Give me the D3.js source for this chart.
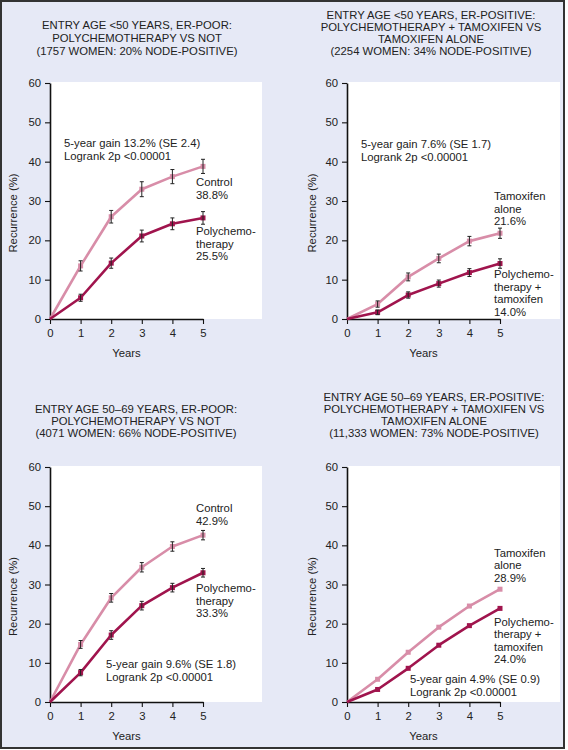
<!DOCTYPE html>
<html><head><meta charset="utf-8">
<script src="https://cdn.jsdelivr.net/npm/d3@7"></script>
<style>
html,body{margin:0;padding:0;background:#fff;}
svg{display:block;font-family:"Liberation Sans",Arial,sans-serif;}
</style></head>
<body>
<svg id="c" width="568" height="750"></svg>
<script>
// ---- data ----
const years = [0, 1, 2, 3, 4, 5];
const yTicks = [0, 10, 20, 30, 40, 50, 60];

// Panel A: entry age <50, ER-poor
const aControl   = [0, 13.5, 26.0, 33.0, 36.2, 38.8];
const aControlSE = [0, 1.3, 1.6, 1.9, 1.8, 1.8];
const aChemo     = [0, 5.4, 14.2, 21.1, 24.2, 25.7];
const aChemoSE   = [0, 0.9, 1.3, 1.5, 1.5, 1.6];
// Panel B: entry age <50, ER-positive
const bTam       = [0, 3.8, 10.7, 15.4, 19.8, 21.8];
const bTamSE     = [0, 0.8, 1.0, 1.1, 1.2, 1.3];
const bChemoTam  = [0, 1.7, 6.1, 9.0, 11.8, 14.1];
const bChemoTamSE= [0, 0.6, 0.8, 0.9, 1.0, 1.2];
// Panel C: entry age 50-69, ER-poor
const cControl   = [0, 14.7, 26.6, 34.4, 39.7, 42.6];
const cControlSE = [0, 1.0, 1.1, 1.2, 1.2, 1.2];
const cChemo     = [0, 7.5, 17.1, 24.6, 29.2, 33.0];
const cChemoSE   = [0, 0.8, 1.1, 1.1, 1.1, 1.1];
// Panel D: entry age 50-69, ER-positive
const dTam       = [0, 5.8, 12.7, 19.1, 24.5, 28.8];
const dTamSE     = [0, 0, 0, 0, 0, 0];
const dChemoTam  = [0, 3.2, 8.6, 14.5, 19.5, 23.9];
const dChemoTamSE= [0, 0, 0, 0, 0, 0];

const titles = [
  ["ENTRY AGE <50 YEARS, ER-POOR:", "POLYCHEMOTHERAPY VS NOT", "(1757 WOMEN: 20% NODE-POSITIVE)"],
  ["ENTRY AGE <50 YEARS, ER-POSITIVE:", "POLYCHEMOTHERAPY + TAMOXIFEN VS", "TAMOXIFEN ALONE", "(2254 WOMEN: 34% NODE-POSITIVE)"],
  ["ENTRY AGE 50\u201369 YEARS, ER-POOR:", "POLYCHEMOTHERAPY VS NOT", "(4071 WOMEN: 66% NODE-POSITIVE)"],
  ["ENTRY AGE 50\u201369 YEARS, ER-POSITIVE:", "POLYCHEMOTHERAPY + TAMOXIFEN VS", "TAMOXIFEN ALONE", "(11,333 WOMEN: 73% NODE-POSITIVE)"]
];
const upperLabels = [
  ["Control", "38.8%"], ["Tamoxifen", "alone", "21.6%"],
  ["Control", "42.9%"], ["Tamoxifen", "alone", "28.9%"]
];
const lowerLabels = [
  ["Polychemo-", "therapy", "25.5%"], ["Polychemo-", "therapy +", "tamoxifen", "14.0%"],
  ["Polychemo-", "therapy", "33.3%"], ["Polychemo-", "therapy +", "tamoxifen", "24.0%"]
];
const statLabels = [
  ["5-year gain 13.2% (SE 2.4)", "Logrank 2p <0.00001"],
  ["5-year gain 7.6% (SE 1.7)", "Logrank 2p <0.00001"],
  ["5-year gain 9.6% (SE 1.8)", "Logrank 2p <0.00001"],
  ["5-year gain 4.9% (SE 0.9)", "Logrank 2p <0.00001"]
];

// ---- layout (positions only) ----
const colPink = "#d88da8", colDark = "#a0144d", textCol = "#222";
const layout = [
  {x0: 50, x5: 203, y0: 319, y60: 83, plotR: 262, titleCx: 137, titleY: 29, titleDy: 12.8,
   up: [196, 186], low: [196, 235], stat: [64, 147], ylab: 13},
  {x0: 347, x5: 500, y0: 319, y60: 83, plotR: 560, titleCx: 431, titleY: 19, titleDy: 11.9,
   up: [494, 200], low: [494, 278], stat: [361, 148], ylab: 312},
  {x0: 50, x5: 203, y0: 702, y60: 467, plotR: 262, titleCx: 136, titleY: 413, titleDy: 12,
   up: [196, 512], low: [196, 592], stat: [106, 668], ylab: 13},
  {x0: 347, x5: 500, y0: 702, y60: 467, plotR: 560, titleCx: 434, titleY: 400.5, titleDy: 12.2,
   up: [494, 556.5], low: [494, 625.5], stat: [410, 683], ylab: 312}
];
const seriesUp = [[aControl, aControlSE], [bTam, bTamSE], [cControl, cControlSE], [dTam, dTamSE]];
const seriesLow = [[aChemo, aChemoSE], [bChemoTam, bChemoTamSE], [cChemo, cChemoSE], [dChemoTam, dChemoTamSE]];

const svg = d3.select("#c");
svg.append("rect").attr("x", 0).attr("y", 0).attr("width", 568).attr("height", 750).attr("fill", "#fff");
svg.append("rect").attr("x", 1).attr("y", 1).attr("width", 563).attr("height", 747)
  .attr("fill", "#e6e9f6").attr("stroke", "#333").attr("stroke-width", 2);

layout.forEach((L, i) => {
  const g = svg.append("g");
  const x = d3.scaleLinear().domain([0, 5]).range([L.x0, L.x5]);
  const y = d3.scaleLinear().domain([0, 60]).range([L.y0, L.y60]);

  // white plot area
  g.append("rect").attr("x", L.x0 + 1).attr("y", y(60) - 1)
    .attr("width", L.plotR - L.x0 - 1).attr("height", L.y0 - y(60) + 1).attr("fill", "#fff");

  // title
  titles[i].forEach((t, k) => {
    g.append("text").attr("x", L.titleCx).attr("y", L.titleY + k * L.titleDy)
      .attr("text-anchor", "middle").attr("font-size", 11.3).attr("fill", textCol).text(t);
  });

  // axes
  const xa = g.append("g").attr("transform", `translate(0,${L.y0})`)
    .call(d3.axisBottom(x).tickValues(years).tickFormat(d3.format("d"))
      .tickSize(5).tickPadding(5).tickSizeOuter(0));
  const ya = g.append("g").attr("transform", `translate(${L.x0},0)`)
    .call(d3.axisLeft(y).tickValues(yTicks).tickFormat(d3.format("d"))
      .tickSize(5).tickPadding(4).tickSizeOuter(0));
  [xa, ya].forEach(a => {
    a.select(".domain").attr("stroke", "#111").attr("stroke-width", 1.6);
    a.selectAll(".tick line").attr("stroke", "#111").attr("stroke-width", 1.1);
    a.selectAll(".tick text").attr("font-size", 11.3).attr("fill", textCol)
      .attr("font-family", "'Liberation Sans',Arial,sans-serif");
  });

  g.append("text").attr("x", (L.x0 + L.x5) / 2).attr("y", L.y0 + 38)
    .attr("text-anchor", "middle").attr("font-size", 11.3).attr("fill", textCol).text("Years");
  g.append("text").attr("transform", `translate(${L.ylab + 4},${(L.y0 + y(60)) / 2 + 12}) rotate(-90)`)
    .attr("text-anchor", "middle").attr("font-size", 11.3).attr("fill", textCol).text("Recurrence (%)");

  // series
  const line = d3.line().x((d, j) => x(years[j])).y(d => y(d));
  [[seriesUp[i], colPink], [seriesLow[i], colDark]].forEach(([[vals, se], col]) => {
    g.append("path").datum(vals).attr("d", line).attr("fill", "none")
      .attr("stroke", col).attr("stroke-width", 2.6).attr("stroke-linejoin", "round");
    vals.forEach((v, j) => {
      if (j === 0) return;
      g.append("rect").attr("x", x(years[j]) - 2.5).attr("y", y(v) - 2.5)
        .attr("width", 5).attr("height", 5).attr("fill", col);
      if (se[j] > 0) {
        const cx = x(years[j]);
        const eb = g.append("g").attr("stroke", "#222").attr("stroke-width", 1);
        eb.append("line").attr("x1", cx).attr("x2", cx).attr("y1", y(v - se[j])).attr("y2", y(v + se[j]));
        eb.append("line").attr("x1", cx - 2).attr("x2", cx + 2).attr("y1", y(v - se[j])).attr("y2", y(v - se[j]));
        eb.append("line").attr("x1", cx - 2).attr("x2", cx + 2).attr("y1", y(v + se[j])).attr("y2", y(v + se[j]));
      }
    });
  });

  // labels
  const block = (lines, pos) => lines.forEach((t, k) => {
    g.append("text").attr("x", pos[0]).attr("y", pos[1] + k * 12.6)
      .attr("font-size", 11.3).attr("fill", textCol).text(t);
  });
  block(upperLabels[i], L.up);
  block(lowerLabels[i], L.low);
  block(statLabels[i], L.stat);
});
</script>
</body></html>
